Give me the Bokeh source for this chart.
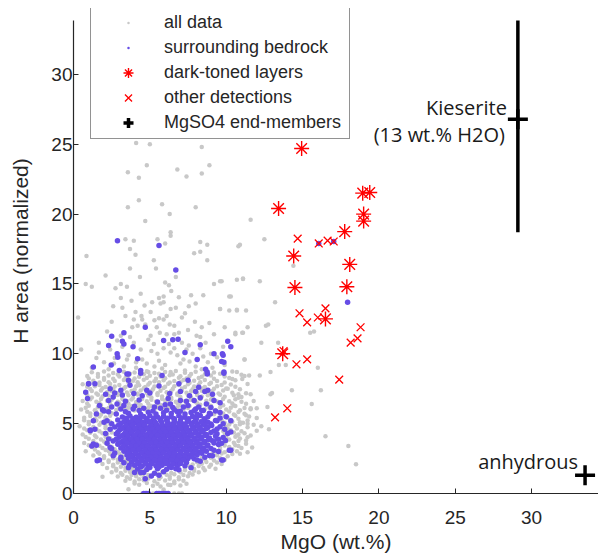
from bokeh.plotting import figure
from bokeh.models import Range1d, Legend, LegendItem, FixedTicker, ColumnDataSource
from bokeh.embed import file_html
from bokeh.resources import INLINE
from bokeh.core.properties import value

# ---------------- data (MgO wt.%, H area normalized) ----------------
# all data: sparse upper / outer points
all_data_sparse = [
    (4.1, 25.1), (5.0, 25.0), (8.4, 24.8), (4.8, 23.5), (3.56, 23.0), (4.28, 22.6), (6.8, 23.2),
    (7.4, 22.7), (8.4, 22.9), (8.9, 23.5), (4.28, 21.0), (3.56, 20.5), (5.8, 20.7), (6.3, 20.0),
    (8.0, 20.5), (4.7, 19.5), (6.36, 18.7), (6.36, 18.45), (3.4, 18.2), (3.95, 18.1), (5.5, 18.2),
    (6.0, 17.9), (8.3, 18.0), (8.76, 17.8), (10.9, 17.8), (11.6, 19.6), (12.5, 18.2), (14.4, 16.3),
    (9.6, 15.2), (10.7, 15.3), (11.1, 15.35), (12.2, 15.2), (10.3, 14.1), (13.2, 13.7), (9.6, 13.2),
    (10.2, 13.1), (10.7, 13.1), (12.6, 12.0), (12.75, 12.1), (10.6, 11.5), (11.1, 11.5), (12.3, 10.8),
    (13.4, 10.8), (15.5, 11.5), (15.75, 11.6), (11.2, 9.6), (13.45, 9.2), (13.9, 9.2), (16.0, 9.0),
    (12.9, 8.7), (11.0, 8.5), (11.5, 8.45), (12.2, 8.45), (10.4, 8.2), (11.05, 8.2), (10.1, 7.5),
    (10.8, 7.1), (11.0, 6.9), (11.6, 7.1), (12.9, 7.1), (13.0, 7.2), (14.3, 7.4), (16.2, 7.4),
    (15.6, 6.4), (10.5, 6.3), (11.6, 6.1), (12.0, 6.1), (12.7, 6.2), (11.3, 5.6), (10.9, 5.1),
    (11.4, 5.0), (12.0, 4.5), (12.8, 4.6), (10.7, 4.15), (11.3, 3.8), (11.7, 3.3), (10.8, 3.4),
    (11.4, 2.95), (10.9, 2.85), (16.5, 4.1), (18.0, 3.4), (18.5, 2.1), (0.3, 12.6), (0.5, 10.3),
]
# all data: middle band (8.5 < H < 17.7)
all_data_mid = [
    (0.85, 17.0), (3.7, 17.5), (4.06, 17.1), (5.26, 16.7), (7.9, 17.2), (8.3, 17.3), (8.76, 16.7),
    (10.8, 17.7), (3.7, 16.1), (5.4, 16.1), (6.7, 15.5), (4.35, 15.5), (2.1, 15.6), (0.8, 15.0),
    (1.2, 14.8), (2.75, 14.7), (3.1, 15.0), (3.5, 14.8), (6.0, 15.1), (6.25, 14.9), (9.2, 15.0),
    (9.7, 15.2), (11.1, 15.4), (3.1, 14.0), (5.6, 14.0), (5.9, 14.1), (5.9, 13.7), (6.9, 14.05),
    (7.7, 14.2), (8.5, 14.2), (10.2, 14.1), (3.2, 13.3), (5.15, 13.7), (4.65, 13.45), (5.7, 13.6),
    (6.36, 13.2), (6.7, 13.3), (7.55, 13.4), (9.6, 13.2), (10.7, 13.15), (11.3, 13.1), (4.06, 13.0),
    (4.45, 12.7), (5.05, 13.0), (6.1, 12.7), (7.1, 12.6), (3.95, 12.45), (4.5, 12.45), (5.6, 12.55),
    (5.9, 12.45), (2.5, 12.3), (3.85, 11.9), (4.2, 12.0), (5.45, 11.9), (6.3, 12.1), (7.95, 12.3),
    (8.4, 11.9), (11.4, 11.9), (3.1, 11.3), (3.7, 11.2), (5.05, 11.3), (5.65, 11.5), (6.1, 11.4),
    (6.6, 11.4), (6.9, 11.5), (8.06, 11.3), (8.3, 11.2), (9.2, 11.4), (10.6, 11.4), (11.05, 11.5),
    (1.66, 10.8), (2.86, 10.95), (3.95, 10.8), (5.26, 10.7), (6.25, 10.7), (7.1, 10.8), (7.55, 10.6),
    (8.65, 10.8), (1.66, 10.1), (2.0, 9.4), (2.65, 9.3), (3.5, 9.6), (4.5, 9.6), (4.8, 9.3),
    (5.6, 9.5), (6.36, 10.1), (6.8, 9.9), (7.8, 10.0), (9.0, 10.0), (9.4, 9.75), (11.2, 9.6),
    (4.9, 8.7), (6.36, 8.7), (7.3, 8.8), (10.7, 8.7), (1.2, 9.0), (2.3, 8.9), (3.3, 9.1),
    (4.1, 9.0), (5.3, 9.1), (6.0, 9.2), (7.0, 9.3), (8.0, 9.1), (8.8, 9.4), (9.9, 9.2),
    (4.4, 10.3), (5.1, 10.2), (5.9, 10.4), (7.4, 10.3), (8.3, 10.4), (9.8, 10.5), (4.9, 11.0),
    (2.2, 11.6), (3.4, 12.7), (4.7, 12.1), (5.3, 12.4), (6.6, 12.0), (7.5, 11.7), (8.9, 12.2),
    (2.4, 10.3), (3.2, 10.5), (3.6, 9.9), (4.1, 9.4), (5.5, 10.0), (6.6, 10.4), (7.2, 9.6),
    (8.5, 9.8), (9.1, 9.0), (1.5, 9.7), (2.7, 9.7), (5.8, 8.95), (7.6, 9.45), (8.4, 8.9),
    (3.8, 13.8), (4.4, 14.3), (6.4, 14.5), (7.3, 12.9), (8.0, 13.6), (2.6, 13.4), (9.9, 11.9),
]
# all data: dense band and halo around the bedrock cluster
all_data_band = [
    (1.2, 8.68), (2.0, 8.74), (2.6, 8.63), (3.3, 8.71), (4.0, 8.66), (4.8, 8.75), (5.3, 8.62),
    (6.0, 8.7), (6.7, 8.77), (7.3, 8.64), (8.0, 8.72), (9.2, 8.66), (10.4, 8.73),
    (0.9, 8.42), (1.6, 8.36), (2.3, 8.45), (3.0, 8.38), (3.6, 8.44), (4.3, 8.35), (5.0, 8.43),
    (5.7, 8.37), (6.3, 8.46), (7.0, 8.39), (7.6, 8.42), (8.4, 8.35), (9.0, 8.44), (9.9, 8.38), (11.2, 8.41),
    (1.3, 8.08), (2.0, 8.14), (2.7, 8.05), (3.3, 8.12), (3.9, 8.07), (4.6, 8.15), (5.3, 8.04),
    (5.9, 8.11), (6.6, 8.06), (7.2, 8.13), (7.9, 8.08), (8.6, 8.12), (9.4, 8.05), (10.6, 8.1),
    (0.6, 7.82), (1.7, 7.76), (2.4, 7.84), (3.0, 7.77), (3.7, 7.83), (4.3, 7.75), (4.9, 7.81),
    (5.6, 7.78), (6.2, 7.85), (6.9, 7.76), (7.5, 7.82), (8.2, 7.79), (8.9, 7.84), (9.7, 7.77),
    (10.3, 7.8), (11.4, 7.83),
    (1.1, 7.48), (1.9, 7.54), (2.6, 7.46), (3.3, 7.52), (4.0, 7.45), (4.6, 7.53), (5.2, 7.47),
    (5.9, 7.55), (6.5, 7.48), (7.1, 7.51), (7.8, 7.46), (8.5, 7.54), (9.2, 7.49), (10.0, 7.52), (10.9, 7.47),
    (0.8, 7.22), (1.5, 7.16), (2.2, 7.24), (2.9, 7.18), (3.5, 7.23), (4.2, 7.15), (4.8, 7.21),
    (5.5, 7.17), (6.1, 7.25), (6.8, 7.16), (7.4, 7.22), (8.1, 7.18), (8.8, 7.24), (9.5, 7.15),
    (10.4, 7.21), (11.3, 7.18),
    (1.2, 6.88), (1.9, 6.94), (2.6, 6.86), (3.2, 6.92), (3.9, 6.85), (4.5, 6.93), (5.1, 6.87),
    (5.8, 6.94), (6.4, 6.86), (7.0, 6.91), (7.7, 6.87), (8.4, 6.95), (9.1, 6.88), (9.9, 6.92), (10.8, 6.86),
    (0.6, 6.62), (1.5, 6.56), (2.2, 6.64), (2.9, 6.57), (3.5, 6.63), (4.1, 6.55), (4.8, 6.61),
    (5.4, 6.58), (6.0, 6.65), (6.7, 6.56), (7.3, 6.62), (8.0, 6.57), (8.7, 6.64), (9.4, 6.58),
    (10.2, 6.61), (11.0, 6.56), (11.8, 6.63),
    (1.0, 6.28), (1.8, 6.34), (2.5, 6.26), (3.2, 6.32), (3.8, 6.25), (4.4, 6.33), (5.1, 6.27),
    (5.7, 6.34), (6.3, 6.26), (7.0, 6.31), (7.6, 6.27), (8.3, 6.35), (9.0, 6.28), (9.8, 6.32), (10.6, 6.26),
    (0.5, 6.02), (1.4, 5.96), (2.1, 6.04), (2.8, 5.97), (3.4, 6.03), (4.0, 5.95), (4.7, 6.01),
    (5.3, 5.98), (5.9, 6.05), (6.6, 5.96), (7.2, 6.02), (7.9, 5.97), (8.6, 6.04), (9.3, 5.98),
    (10.0, 6.01), (10.9, 5.96), (11.6, 6.03),
    (1.1, 5.72), (1.8, 5.66), (2.5, 5.74), (9.2, 5.68), (9.8, 5.73), (10.5, 5.66), (11.2, 5.71),
    (0.7, 5.42), (1.4, 5.36), (2.1, 5.44), (9.5, 5.38), (10.1, 5.43), (10.8, 5.35), (12.0, 5.41),
    (1.0, 5.12), (1.8, 5.06), (2.4, 5.14), (9.9, 5.07), (10.4, 5.13), (11.1, 5.06),
    (0.4, 4.82), (1.3, 4.76), (2.1, 4.84), (10.0, 4.78), (10.6, 4.83), (11.4, 4.75), (12.3, 4.81),
    (0.9, 4.52), (1.7, 4.46), (2.4, 4.54), (9.8, 4.47), (10.3, 4.53), (11.0, 4.46),
    (0.6, 4.22), (1.4, 4.16), (2.2, 4.24), (10.0, 4.17), (10.8, 4.23), (11.6, 4.15),
    (1.0, 3.92), (1.8, 3.86), (2.4, 3.94), (10.2, 3.87), (10.9, 3.93),
    (0.7, 3.62), (1.5, 3.56), (2.1, 3.64), (9.8, 3.57), (10.5, 3.63), (11.3, 3.56),
    (1.2, 3.32), (1.9, 3.26), (2.5, 3.34), (9.6, 3.27), (10.2, 3.33), (11.0, 3.26),
    (0.8, 3.02), (1.6, 2.96), (2.3, 3.04), (2.9, 2.97), (9.3, 3.03), (9.9, 2.96), (10.7, 3.02),
    (1.3, 2.72), (2.0, 2.66), (2.7, 2.74), (3.2, 2.67), (9.4, 2.73), (10.1, 2.66),
    (1.6, 2.42), (2.3, 2.36), (2.9, 2.44), (3.4, 2.37), (8.6, 2.43), (9.2, 2.36), (9.9, 2.41),
    (1.9, 2.12), (2.6, 2.06), (3.2, 2.14), (7.8, 2.07), (8.4, 2.13), (9.0, 2.06), (9.7, 2.11),
    (2.2, 1.82), (2.8, 1.76), (3.4, 1.84), (3.9, 1.77), (7.3, 1.83), (7.9, 1.76), (8.5, 1.82), (9.3, 1.77),
    (2.5, 1.52), (3.1, 1.46), (3.7, 1.54), (4.2, 1.47), (5.8, 1.53), (6.4, 1.46), (7.0, 1.52),
    (7.6, 1.47), (8.2, 1.53),
    (2.9, 1.22), (3.5, 1.16), (4.1, 1.24), (4.6, 1.17), (5.1, 1.23), (5.7, 1.16), (6.3, 1.22),
    (6.9, 1.17), (7.5, 1.23), (1.9, 1.2),
    (3.4, 0.92), (4.0, 0.86), (4.6, 0.94), (5.3, 0.87), (6.0, 0.93), (6.6, 0.86), (7.2, 0.91),
    (4.3, 0.62), (5.2, 0.56), (5.7, 0.5), (6.2, 0.63), (6.35, 0.6), (7.0, 0.57), (3.6, 0.3), (5.9, 0.28),
    (4.5, 0.0), (5.2, 0.0), (6.6, 0.0), (6.9, 0.0), (7.1, 0.0),
]
# all data: filling between the band rows
all_data_fill = [
    (1.6, 8.55), (2.9, 8.52), (3.7, 8.58), (4.6, 8.53), (5.6, 8.57), (6.5, 8.52), (7.7, 8.56),
    (8.6, 8.54), (9.6, 8.58), (1.0, 8.24), (2.0, 8.27), (2.6, 8.22), (3.4, 8.26), (4.0, 8.23),
    (4.8, 8.27), (5.4, 8.22), (6.0, 8.25), (6.9, 8.28), (7.4, 8.23), (8.2, 8.26), (9.2, 8.22),
    (10.2, 8.27), (1.7, 7.94), (2.3, 7.97), (3.6, 7.93), (4.2, 7.96), (5.0, 7.92), (5.6, 7.97),
    (6.3, 7.94), (7.0, 7.96), (7.6, 7.93), (8.3, 7.97), (9.0, 7.92), (9.9, 7.95), (0.9, 7.64),
    (1.4, 7.67), (2.1, 7.62), (2.7, 7.66), (3.4, 7.63), (4.1, 7.68), (4.7, 7.62), (5.3, 7.66),
    (6.0, 7.64), (6.6, 7.67), (7.3, 7.62), (7.9, 7.66), (8.6, 7.63), (9.4, 7.68), (10.6, 7.64),
    (1.2, 7.34), (1.8, 7.37), (2.5, 7.32), (3.1, 7.36), (3.8, 7.33), (4.4, 7.38), (5.1, 7.32),
    (5.7, 7.36), (6.4, 7.34), (7.1, 7.37), (7.7, 7.32), (8.4, 7.36), (9.1, 7.33), (9.8, 7.37),
    (0.9, 7.04), (1.6, 7.07), (2.3, 7.02), (2.9, 7.06), (3.6, 7.03), (4.2, 7.08), (4.9, 7.02),
    (5.5, 7.06), (6.2, 7.04), (6.8, 7.07), (7.5, 7.02), (8.1, 7.06), (8.8, 7.03), (9.6, 7.07),
    (10.5, 7.04), (1.1, 6.74), (1.8, 6.77), (2.5, 6.72), (3.2, 6.76), (3.8, 6.73), (4.5, 6.78),
    (5.1, 6.72), (5.8, 6.76), (6.4, 6.74), (7.0, 6.77), (7.7, 6.72), (8.3, 6.76), (9.0, 6.73),
    (9.8, 6.77), (10.6, 6.74), (0.9, 6.44), (1.7, 6.47), (2.4, 6.42), (3.0, 6.46), (3.6, 6.43),
    (4.2, 6.48), (4.9, 6.42), (5.5, 6.46), (6.2, 6.44), (6.8, 6.47), (7.4, 6.42), (8.1, 6.46),
    (8.8, 6.43), (9.6, 6.47), (10.4, 6.44), (11.3, 6.42), (0.8, 6.14), (1.6, 6.17), (2.3, 6.12),
    (3.0, 6.16), (3.6, 6.13), (4.3, 6.18), (4.9, 6.12), (5.5, 6.16), (6.2, 6.14), (6.8, 6.17),
    (7.5, 6.12), (8.1, 6.16), (8.9, 6.13), (9.6, 6.17), (10.3, 6.14), (11.2, 6.12),
    (0.9, 5.86), (1.5, 5.84), (2.2, 5.88), (9.5, 5.85), (10.2, 5.87), (10.8, 5.83),
    (1.1, 5.55), (1.7, 5.52), (2.4, 5.57), (9.9, 5.54), (10.6, 5.56), (11.5, 5.52),
    (0.7, 5.25), (1.5, 5.22), (2.1, 5.28), (9.7, 5.24), (10.3, 5.27), (11.4, 5.23),
    (1.0, 4.95), (1.7, 4.92), (2.4, 4.97), (10.2, 4.94), (10.9, 4.96), (11.8, 4.92),
    (0.7, 4.65), (1.5, 4.62), (2.1, 4.67), (10.1, 4.64), (10.7, 4.66),
    (1.1, 4.35), (1.9, 4.32), (2.5, 4.37), (9.9, 4.34), (10.5, 4.36), (11.2, 4.32),
    (0.8, 4.05), (1.5, 4.02), (2.1, 4.07), (10.0, 4.04), (10.6, 4.06), (11.4, 4.02),
    (1.3, 3.75), (2.0, 3.72), (2.6, 3.77), (10.0, 3.74), (10.8, 3.76),
    (1.0, 3.45), (1.7, 3.42), (2.3, 3.47), (9.9, 3.44), (10.6, 3.46),
    (1.4, 3.15), (2.1, 3.12), (2.7, 3.17), (9.6, 3.14), (10.4, 3.16),
    (1.7, 2.85), (2.4, 2.82), (3.0, 2.87), (9.1, 2.84), (9.7, 2.86), (10.4, 2.82),
    (2.0, 2.55), (2.6, 2.52), (3.2, 2.57), (8.4, 2.54), (9.0, 2.56), (9.6, 2.52),
    (2.3, 2.25), (2.9, 2.22), (3.5, 2.27), (8.1, 2.24), (8.7, 2.26), (9.4, 2.22),
    (2.6, 1.95), (3.1, 1.92), (3.7, 1.97), (7.6, 1.94), (8.2, 1.96), (8.9, 1.92),
    (2.8, 1.65), (3.4, 1.62), (3.9, 1.67), (4.5, 1.63), (6.9, 1.64), (7.3, 1.67), (7.9, 1.62), (8.6, 1.66),
    (3.2, 1.35), (3.8, 1.32), (4.4, 1.37), (4.9, 1.33), (5.5, 1.36), (6.1, 1.34), (6.6, 1.37),
    (7.2, 1.32), (7.8, 1.36), (3.7, 1.05), (4.3, 1.02), (4.9, 1.07), (5.6, 1.03), (6.3, 1.06),
    (6.9, 1.02), (4.0, 0.72), (4.8, 0.75), (5.5, 0.7), (6.6, 0.74), (7.4, 0.7),
]
all_data = all_data_sparse + all_data_mid + all_data_band + all_data_fill

# surrounding bedrock: dense cluster
bedrock_core = [
    (3.2, 5.48), (3.7, 5.55), (4.1, 5.46), (4.6, 5.52), (5.0, 5.57), (5.5, 5.47), (5.9, 5.53),
    (6.4, 5.5), (6.9, 5.56), (7.3, 5.46), (7.8, 5.52), (8.3, 5.58), (8.8, 5.49),
    (2.9, 5.26), (3.5, 5.22), (3.9, 5.28), (4.3, 5.23), (4.8, 5.27), (5.2, 5.21), (5.7, 5.26),
    (6.1, 5.24), (6.6, 5.29), (7.0, 5.22), (7.5, 5.27), (8.0, 5.23), (8.6, 5.28), (9.3, 5.22),
    (3.1, 5.02), (3.6, 4.97), (4.0, 5.03), (4.4, 4.98), (4.7, 5.04), (5.1, 4.99), (5.4, 5.02),
    (5.8, 4.96), (6.2, 5.03), (6.5, 4.98), (6.9, 5.01), (7.2, 4.97), (7.7, 5.03), (8.1, 4.98),
    (8.5, 5.02), (9.0, 4.97),
    (2.7, 4.76), (3.3, 4.72), (3.8, 4.78), (4.2, 4.73), (4.5, 4.77), (4.9, 4.71), (5.3, 4.76),
    (5.6, 4.74), (6.0, 4.78), (6.3, 4.72), (6.7, 4.76), (7.1, 4.73), (7.4, 4.78), (7.9, 4.72),
    (8.3, 4.76), (8.8, 4.73), (9.6, 4.77),
    (3.0, 4.52), (3.5, 4.47), (3.9, 4.53), (4.3, 4.48), (4.6, 4.52), (5.0, 4.46), (5.4, 4.51),
    (5.7, 4.49), (6.1, 4.53), (6.4, 4.47), (6.8, 4.51), (7.2, 4.48), (7.6, 4.53), (8.0, 4.47),
    (8.5, 4.52), (9.2, 4.48),
    (2.8, 4.26), (3.3, 4.22), (3.7, 4.28), (4.1, 4.23), (4.4, 4.27), (4.8, 4.21), (5.2, 4.26),
    (5.5, 4.24), (5.9, 4.28), (6.2, 4.22), (6.6, 4.26), (7.0, 4.23), (7.3, 4.27), (7.7, 4.22),
    (8.2, 4.26), (8.7, 4.23), (9.4, 4.27),
    (3.0, 4.02), (3.5, 3.97), (3.9, 4.03), (4.2, 3.98), (4.6, 4.02), (5.0, 3.96), (5.3, 4.01),
    (5.7, 3.99), (6.0, 4.03), (6.4, 3.97), (6.7, 4.01), (7.1, 3.98), (7.5, 4.03), (7.9, 3.97),
    (8.4, 4.02), (8.9, 3.98), (9.8, 4.01),
    (2.6, 3.76), (3.2, 3.72), (3.6, 3.78), (4.0, 3.73), (4.4, 3.77), (4.7, 3.71), (5.1, 3.76),
    (5.5, 3.74), (5.8, 3.78), (6.2, 3.72), (6.5, 3.76), (6.9, 3.73), (7.3, 3.77), (7.7, 3.72),
    (8.1, 3.76), (8.6, 3.73), (9.1, 3.77),
    (2.9, 3.52), (3.4, 3.47), (3.8, 3.53), (4.2, 3.48), (4.5, 3.52), (4.9, 3.46), (5.3, 3.51),
    (5.6, 3.49), (6.0, 3.53), (6.3, 3.47), (6.7, 3.51), (7.0, 3.48), (7.4, 3.53), (7.8, 3.47),
    (8.3, 3.52), (8.8, 3.48), (9.5, 3.51),
    (3.1, 3.26), (3.6, 3.22), (4.0, 3.28), (4.3, 3.23), (4.7, 3.27), (5.1, 3.21), (5.4, 3.26),
    (5.8, 3.24), (6.1, 3.28), (6.5, 3.22), (6.8, 3.26), (7.2, 3.23), (7.6, 3.27), (8.0, 3.22),
    (8.5, 3.26), (9.0, 3.23),
    (3.3, 3.02), (3.7, 2.97), (4.1, 3.03), (4.5, 2.98), (4.9, 3.02), (5.2, 2.96), (5.6, 3.01),
    (5.9, 2.99), (6.3, 3.03), (6.6, 2.97), (7.0, 3.01), (7.4, 2.98), (7.8, 3.03), (8.2, 2.97),
    (8.7, 3.02),
    (3.5, 2.76), (3.9, 2.72), (4.3, 2.78), (4.7, 2.73), (5.0, 2.77), (5.4, 2.71), (5.7, 2.76),
    (6.1, 2.74), (6.4, 2.78), (6.8, 2.72), (7.2, 2.76), (7.6, 2.73), (8.1, 2.77), (8.9, 2.72),
    (3.6, 2.52), (4.1, 2.47), (4.5, 2.53), (4.9, 2.48), (5.2, 2.52), (5.6, 2.46), (5.9, 2.51),
    (6.3, 2.49), (6.7, 2.53), (7.1, 2.47), (7.5, 2.51), (7.9, 2.48),
    (3.8, 2.26), (4.3, 2.22), (4.7, 2.28), (5.1, 2.23), (5.5, 2.27), (5.8, 2.21), (6.2, 2.26),
    (6.6, 2.24), (7.0, 2.28), (7.4, 2.22),
    (4.0, 2.02), (4.5, 1.97), (4.9, 2.03), (5.4, 1.98), (5.8, 2.02), (6.3, 1.96), (6.8, 2.01), (7.3, 1.98),
    (4.2, 1.76), (4.8, 1.72), (5.5, 1.78), (6.1, 1.73), (6.7, 1.77),
    (4.6, 1.5), (5.3, 1.45),
]
# surrounding bedrock: points between the rows of the dense cluster
bedrock_core_fill = [
    (3.45, 5.39), (3.9, 5.35), (4.35, 5.4), (4.8, 5.36), (5.25, 5.38), (5.7, 5.34), (6.15, 5.39),
    (6.6, 5.36), (7.05, 5.4), (7.55, 5.35), (8.05, 5.38), (8.55, 5.36),
    (3.3, 5.14), (3.75, 5.11), (4.2, 5.15), (4.55, 5.12), (5.0, 5.14), (5.35, 5.1), (5.75, 5.15),
    (6.15, 5.12), (6.6, 5.14), (7.0, 5.11), (7.45, 5.15), (7.9, 5.12), (8.35, 5.14), (8.8, 5.1),
    (2.95, 4.89), (3.45, 4.86), (3.85, 4.9), (4.3, 4.87), (4.65, 4.89), (5.05, 4.85), (5.45, 4.9),
    (5.8, 4.87), (6.15, 4.89), (6.55, 4.86), (6.95, 4.9), (7.3, 4.87), (7.75, 4.89), (8.15, 4.85),
    (8.6, 4.9), (9.05, 4.87),
    (3.15, 4.64), (3.6, 4.61), (4.05, 4.65), (4.4, 4.62), (4.8, 4.64), (5.15, 4.6), (5.55, 4.65),
    (5.9, 4.62), (6.25, 4.64), (6.6, 4.61), (7.0, 4.65), (7.4, 4.62), (7.8, 4.64), (8.25, 4.6),
    (8.7, 4.65), (9.4, 4.62),
    (2.9, 4.39), (3.4, 4.36), (3.8, 4.4), (4.2, 4.37), (4.55, 4.39), (4.95, 4.35), (5.35, 4.4),
    (5.65, 4.37), (6.05, 4.39), (6.4, 4.36), (6.8, 4.4), (7.15, 4.37), (7.55, 4.39), (7.95, 4.35),
    (8.45, 4.4), (9.0, 4.37),
    (3.15, 4.14), (3.55, 4.11), (4.0, 4.15), (4.4, 4.12), (4.75, 4.14), (5.1, 4.1), (5.5, 4.15),
    (5.85, 4.12), (6.2, 4.14), (6.55, 4.11), (6.9, 4.15), (7.3, 4.12), (7.7, 4.14), (8.15, 4.1),
    (8.65, 4.15), (9.3, 4.12),
    (2.8, 3.89), (3.35, 3.86), (3.75, 3.9), (4.15, 3.87), (4.5, 3.89), (4.9, 3.85), (5.3, 3.9),
    (5.65, 3.87), (5.95, 3.89), (6.35, 3.86), (6.7, 3.9), (7.05, 3.87), (7.5, 3.89), (7.9, 3.85),
    (8.35, 3.9), (8.85, 3.87), (9.5, 3.89),
    (3.0, 3.64), (3.5, 3.61), (3.9, 3.65), (4.3, 3.62), (4.65, 3.64), (5.05, 3.6), (5.4, 3.65),
    (5.75, 3.62), (6.15, 3.64), (6.45, 3.61), (6.85, 3.65), (7.2, 3.62), (7.6, 3.64), (8.05, 3.6),
    (8.55, 3.65), (9.2, 3.62),
    (3.25, 3.39), (3.75, 3.36), (4.1, 3.4), (4.5, 3.37), (4.85, 3.39), (5.25, 3.35), (5.6, 3.4),
    (5.95, 3.37), (6.3, 3.39), (6.65, 3.36), (7.0, 3.4), (7.4, 3.37), (7.8, 3.39), (8.25, 3.35),
    (8.75, 3.4),
    (3.45, 3.14), (3.9, 3.11), (4.3, 3.15), (4.7, 3.12), (5.05, 3.14), (5.4, 3.1), (5.75, 3.15),
    (6.1, 3.12), (6.45, 3.14), (6.85, 3.11), (7.2, 3.15), (7.6, 3.12), (8.0, 3.14), (8.45, 3.1),
    (3.6, 2.89), (4.05, 2.86), (4.5, 2.9), (4.85, 2.87), (5.2, 2.89), (5.55, 2.85), (5.9, 2.9),
    (6.25, 2.87), (6.6, 2.89), (7.0, 2.86), (7.4, 2.9), (7.85, 2.87), (8.4, 2.89),
    (3.8, 2.64), (4.25, 2.61), (4.65, 2.65), (5.05, 2.62), (5.4, 2.64), (5.75, 2.6), (6.1, 2.65),
    (6.5, 2.62), (6.9, 2.64), (7.3, 2.61), (7.75, 2.65),
    (3.95, 2.39), (4.45, 2.36), (4.85, 2.4), (5.3, 2.37), (5.65, 2.39), (6.0, 2.35), (6.4, 2.4),
    (6.8, 2.37), (7.2, 2.39),
    (4.2, 2.14), (4.7, 2.11), (5.15, 2.15), (5.6, 2.12), (6.05, 2.14), (6.5, 2.1), (7.0, 2.15),
    (4.4, 1.89), (5.0, 1.86), (5.6, 1.9), (6.4, 1.87),
]
# surrounding bedrock: ragged edges of the cluster
bedrock_edges = [
    (2.8, 5.7), (3.6, 5.75), (4.4, 5.68), (4.9, 5.82), (5.4, 5.7), (5.9, 5.78), (6.4, 5.72),
    (6.8, 5.85), (7.3, 5.7), (7.7, 5.8), (8.1, 5.68), (8.9, 5.75), (9.3, 5.9),
    (3.4, 5.85), (4.3, 5.95), (5.2, 5.9), (6.1, 5.96), (7.0, 5.88), (7.9, 5.93),
    (3.1, 6.05), (3.3, 6.3), (4.0, 6.25), (4.6, 6.1), (5.3, 6.2), (6.0, 6.35), (6.5, 6.15),
    (7.5, 6.3), (8.0, 6.05), (8.7, 6.4), (9.0, 6.15), (3.9, 6.05), (5.7, 6.1), (6.6, 6.0),
    (8.4, 5.95), (3.4, 6.6), (4.3, 6.7), (5.5, 6.55), (6.2, 6.8), (7.4, 6.6), (8.3, 6.85),
    (9.6, 6.5), (2.7, 7.2), (3.2, 7.05), (4.8, 7.4), (6.3, 7.15), (7.0, 7.3), (8.2, 7.6),
    (9.1, 7.1), (1.9, 6.0), (1.7, 6.3), (2.3, 5.85),
    (3.3, 2.2), (3.1, 2.45), (8.3, 2.3), (8.6, 2.6), (7.7, 1.85), (3.6, 1.85), (4.0, 1.5),
    (5.9, 1.55), (6.9, 1.7), (5.1, 1.25), (4.7, 1.05),
    (2.3, 3.9), (2.1, 4.3), (2.4, 4.6), (2.5, 5.0), (2.2, 3.6), (2.5, 3.2), (2.7, 2.9),
    (9.9, 4.6), (9.7, 3.6), (9.5, 3.0), (9.1, 2.7), (10.0, 5.5), (9.6, 5.4),
]
# surrounding bedrock: scattered points
bedrock_scatter = [
    (0.98, 7.85), (0.92, 6.8), (1.4, 7.85), (2.1, 7.1), (2.3, 6.65), (1.5, 5.7), (1.3, 5.2),
    (1.4, 4.6), (1.1, 4.5), (1.3, 3.55), (1.5, 3.45), (1.7, 2.4), (2.0, 5.1), (2.2, 5.2),
    (2.0, 5.9), (2.5, 6.2), (2.85, 6.4), (2.6, 6.9), (2.4, 7.5), (3.1, 7.4), (3.6, 8.1),
    (3.7, 7.75), (3.5, 8.55), (4.4, 8.8), (3.95, 7.15), (4.5, 7.0), (5.0, 7.2), (5.6, 7.7),
    (5.8, 8.45), (6.9, 7.85), (7.5, 8.1), (7.6, 7.0), (8.0, 7.3), (8.6, 7.3), (8.8, 7.4),
    (7.9, 6.66), (7.0, 6.65), (6.35, 6.4), (7.2, 6.2), (8.2, 6.2), (8.5, 5.95), (8.97, 5.7),
    (9.4, 5.2), (9.2, 6.65), (8.75, 8.7), (9.85, 8.7), (10.3, 5.2), (10.1, 4.3), (9.7, 2.4),
    (10.2, 3.1), (9.4, 3.9), (9.2, 3.1), (8.1, 2.4), (7.0, 2.15), (5.6, 1.3), (4.4, 1.5),
    (3.65, 2.0), (3.1, 2.6), (2.6, 2.7), (2.4, 3.3), (0.8, 7.25), (1.0, 7.85), (1.55, 2.35),
    (1.1, 4.55), (1.2, 3.4), (9.8, 5.0), (9.6, 5.8), (10.3, 4.4), (9.95, 3.8), (10.3, 3.1),
    (9.8, 2.4), (10.1, 10.9), (10.3, 10.5), (9.75, 10.0), (9.85, 9.4), (9.85, 8.6),
    (5.6, 17.75), (6.7, 16.0), (4.7, 11.9), (2.5, 11.25), (3.3, 11.5), (2.3, 10.6), (3.2, 10.9),
    (3.3, 10.7), (3.9, 10.5), (5.9, 10.95), (6.5, 11.0), (6.85, 11.05), (8.3, 10.65),
    (7.3, 10.1), (9.2, 10.0), (9.8, 9.9), (8.1, 9.6), (9.7, 9.45), (2.86, 10.0), (2.9, 9.75),
    (4.2, 9.65), (2.47, 9.2), (1.3, 9.05), (3.0, 8.8), (3.6, 8.55), (4.4, 8.6), (8.65, 8.9),
    (8.76, 8.55), (2.88, 18.1), (16.06, 17.9), (17.04, 18.04), (17.95, 13.7),
]
bedrock_zero = [(4.6, 0.0), (4.75, 0.0), (4.9, 0.0), (5.45, 0.0), (5.6, 0.0), (5.75, 0.0),
                (5.9, 0.0), (6.05, 0.0), (6.2, 0.0)]
bedrock = bedrock_core + bedrock_core_fill + bedrock_edges + bedrock_scatter + bedrock_zero

dark_layers_mgo = [14.94, 13.43, 18.94, 19.4, 19.0, 19.0, 17.76, 14.42, 18.09, 14.5, 17.9, 16.5, 13.7]
dark_layers_h = [24.7, 20.4, 21.5, 21.55, 20.0, 19.5, 18.75, 17.0, 16.4, 14.75, 14.8, 12.5, 10.0]

other_mgo = [14.68, 16.06, 16.64, 17.04, 14.8, 15.3, 16.0, 16.5, 18.8, 18.6, 18.15, 13.76, 14.6,
             15.3, 17.4, 14.0, 13.2]
other_h = [18.25, 17.9, 18.1, 18.04, 12.9, 12.25, 12.6, 13.25, 11.9, 11.1, 10.8, 10.2, 9.25,
           9.6, 8.15, 6.1, 5.45]

endmember_names = ["Kieserite", "anhydrous"]
endmember_mgo = [29.1, 33.5]
endmember_h = [26.8, 1.3]
kieserite_h_err_low = 8.1
kieserite_h_err_high = 7.06
kieserite_note = "(13 wt.% H2O)"

x_ticks = [0, 5, 10, 15, 20, 25, 30]
y_ticks = [0, 5, 10, 15, 20, 25, 30]
y_axis_top = 33.86

# ---------------- figure ----------------
AX = "#262626"
TICK_FONT = "Liberation Sans"

p = figure(width=598, height=559, output_backend="svg", toolbar_location=None,
           x_range=Range1d(0, 34.38), y_range=Range1d(0, 34.72),
           min_border_left=73, min_border_right=0, min_border_top=8, min_border_bottom=66)
p.outline_line_color = None
p.xgrid.visible = False
p.ygrid.visible = False
p.background_fill_color = "white"

for ax, ticks, label in ((p.xaxis[0], x_ticks, "MgO (wt.%)"), (p.yaxis[0], y_ticks, "H area (normalized)")):
    ax.ticker = FixedTicker(ticks=ticks)
    ax.axis_label = label
    ax.axis_label_text_font = TICK_FONT
    ax.axis_label_text_font_size = "21px"
    ax.axis_label_text_font_style = "normal"
    ax.axis_label_text_color = AX
    ax.major_label_text_font = TICK_FONT
    ax.major_label_text_font_size = "19px"
    ax.major_label_text_color = AX
    ax.axis_line_color = AX
    ax.axis_line_width = 1.2
    ax.major_tick_line_color = AX
    ax.major_tick_in = 5
    ax.major_tick_out = 0
    ax.minor_tick_line_color = None
p.yaxis[0].bounds = (0, y_axis_top)
p.xaxis[0].major_label_standoff = 17
p.xaxis[0].axis_label_standoff = 3
p.yaxis[0].major_label_standoff = 1
p.yaxis[0].axis_label_standoff = 16

src_all = ColumnDataSource(dict(x=[a for a, b in all_data], y=[b for a, b in all_data]))
src_bed = ColumnDataSource(dict(x=[a for a, b in bedrock], y=[b for a, b in bedrock]))

r_all = p.scatter("x", "y", source=src_all, marker="dot", size=18, line_color="#c8c8c8")
r_bed = p.scatter("x", "y", source=src_bed, marker="dot", size=22, line_color="#664de6")
r_other = p.scatter(other_mgo, other_h, marker="x", size=11, line_color="#ff0000", line_width=1.3)
r_dark = p.scatter(dark_layers_mgo, dark_layers_h, marker="asterisk", size=15,
                   line_color="#ff0000", line_width=1.4)

p.segment(x0=[endmember_mgo[0]], y0=[endmember_h[0] - kieserite_h_err_low],
          x1=[endmember_mgo[0]], y1=[endmember_h[0] + kieserite_h_err_high],
          line_color="black", line_width=3.5)
r_end = p.scatter(endmember_mgo, endmember_h, marker="cross", size=20,
                  line_color="black", line_width=3.5)

txt = dict(text_font=value("Open Sans"), text_font_size="20px", text_color="#1a1a1a",
           text_align="right", text_baseline="alphabetic")
p.text(x=[endmember_mgo[0]], y=[endmember_h[0]], text=[endmember_names[0]],
       x_offset=-11, y_offset=-12, **txt)
p.text(x=[endmember_mgo[0]], y=[endmember_h[0]], text=[kieserite_note],
       x_offset=-13, y_offset=15, **txt)
p.text(x=[endmember_mgo[1]], y=[endmember_h[1]], text=[endmember_names[1]],
       x_offset=-7, y_offset=-14, **txt)

legend = Legend(items=[
    LegendItem(label="all data", renderers=[r_all]),
    LegendItem(label="surrounding bedrock", renderers=[r_bed]),
    LegendItem(label="dark-toned layers", renderers=[r_dark]),
    LegendItem(label="other detections", renderers=[r_other]),
    LegendItem(label="MgSO4 end-members", renderers=[r_end]),
], location=(17, 354), orientation="vertical",
    glyph_width=68, glyph_height=25, label_height=25, label_width=182, label_standoff=2,
    spacing=0, padding=3, margin=0,
    label_text_font=TICK_FONT, label_text_font_size="18px", label_text_color=AX,
    label_text_baseline="alphabetic",
    border_line_color=AX, border_line_width=1, background_fill_color="white",
    background_fill_alpha=1.0)
p.add_layout(legend, "center")

open("out.html", "w").write(file_html(p, INLINE))
